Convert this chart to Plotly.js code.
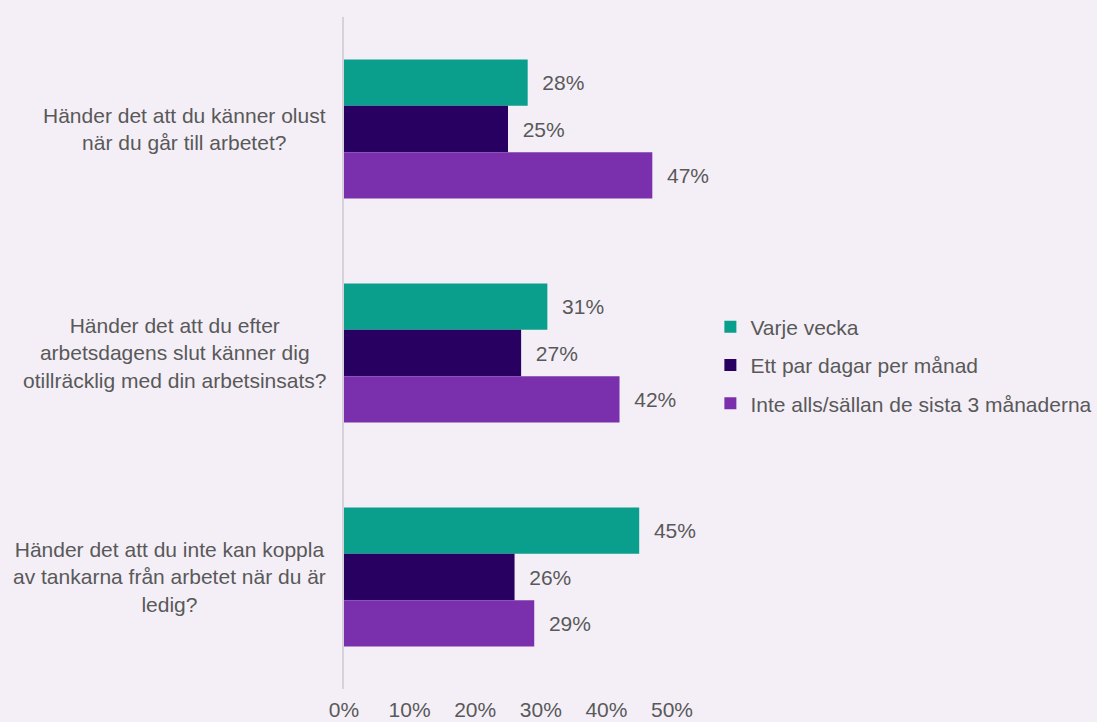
<!DOCTYPE html>
<html>
<head>
<meta charset="utf-8">
<script src="https://cdn.plot.ly/plotly-3.0.1.min.js"></script>
<style>
  html, body { margin: 0; padding: 0; background: #F4EFF7; }
  #chart { width: 1097px; height: 722px; }
</style>
</head>
<body>
<div id="chart"></div>
<script>
// ---- data ----
const categories = [
  "Händer det att du känner olust<br>när du går till arbetet?",
  "Händer det att du efter<br>arbetsdagens slut känner dig<br>otillräcklig med din arbetsinsats?",
  "Händer det att du inte kan koppla<br>av tankarna från arbetet när du är<br>ledig?"
];
const seriesNames = ["Varje vecka", "Ett par dagar per månad", "Inte alls/sällan de sista 3 månaderna"];
const varjeVecka = [0.28, 0.31, 0.45];
const ettParDagar = [0.25, 0.27, 0.26];
const inteAlls = [0.47, 0.42, 0.29];
const tickValues = [0, 0.1, 0.2, 0.3, 0.4, 0.5];
const tickLabels = ["0%", "10%", "20%", "30%", "40%", "50%"];

const colors = ["#0A9E8C", "#270061", "#7A30AD"];
const textColor = "#595959";
const font = "Liberation Sans, Arial, sans-serif";
const fs = 21;

const allSeries = [varjeVecka, ettParDagar, inteAlls];
const traces = allSeries.map((vals, i) => ({
  type: "bar",
  orientation: "h",
  name: seriesNames[i],
  legendgroup: "g" + i,
  y: categories,
  x: vals,
  marker: { color: colors[i] },
  text: vals.map(v => "\u00a0\u00a0" + Math.round(v * 100) + "%"),
  textposition: "outside",
  cliponaxis: false,
  textfont: { family: font, size: fs, color: textColor },
  hoverinfo: "skip"
}));

const annotations = categories.map(c => ({
  xref: "paper", yref: "y",
  x: -0.0487, y: c,
  xanchor: "right", align: "center",
  showarrow: false,
  text: c,
  font: { family: font, size: fs, color: textColor }
}));

const layout = {
  width: 1097, height: 722,
  paper_bgcolor: "#F4EFF7",
  plot_bgcolor: "#F4EFF7",
  margin: { l: 344, r: 424.5, t: 17, b: 33, autoexpand: false },
  barmode: "group",
  bargap: 0.38,
  bargroupgap: 0,
  font: { family: font, size: fs, color: textColor },
  showlegend: true,
  legend: {
    x: 1.117, xanchor: "left",
    y: 0.482, yanchor: "middle",
    bgcolor: "rgba(0,0,0,0)",
    font: { family: font, size: fs, color: textColor },
    tracegroupgap: 8
  },
  xaxis: {
    range: [0, 0.5],
    tickvals: tickValues,
    ticktext: tickLabels,
    showgrid: false,
    zeroline: false,
    showline: false,
    ticks: "",
    ticklabelstandoff: 6,
    automargin: false,
    tickfont: { family: font, size: fs, color: textColor },
    fixedrange: true
  },
  yaxis: {
    type: "category",
    autorange: "reversed",
    showticklabels: false,
    showgrid: false,
    zeroline: false,
    showline: true,
    linecolor: "#D6D1DB",
    linewidth: 2,
    ticks: "",
    automargin: false,
    fixedrange: true
  },
  annotations: annotations
};

Plotly.newPlot("chart", traces, layout, { displayModeBar: false, staticPlot: true });
</script>
</body>
</html>
